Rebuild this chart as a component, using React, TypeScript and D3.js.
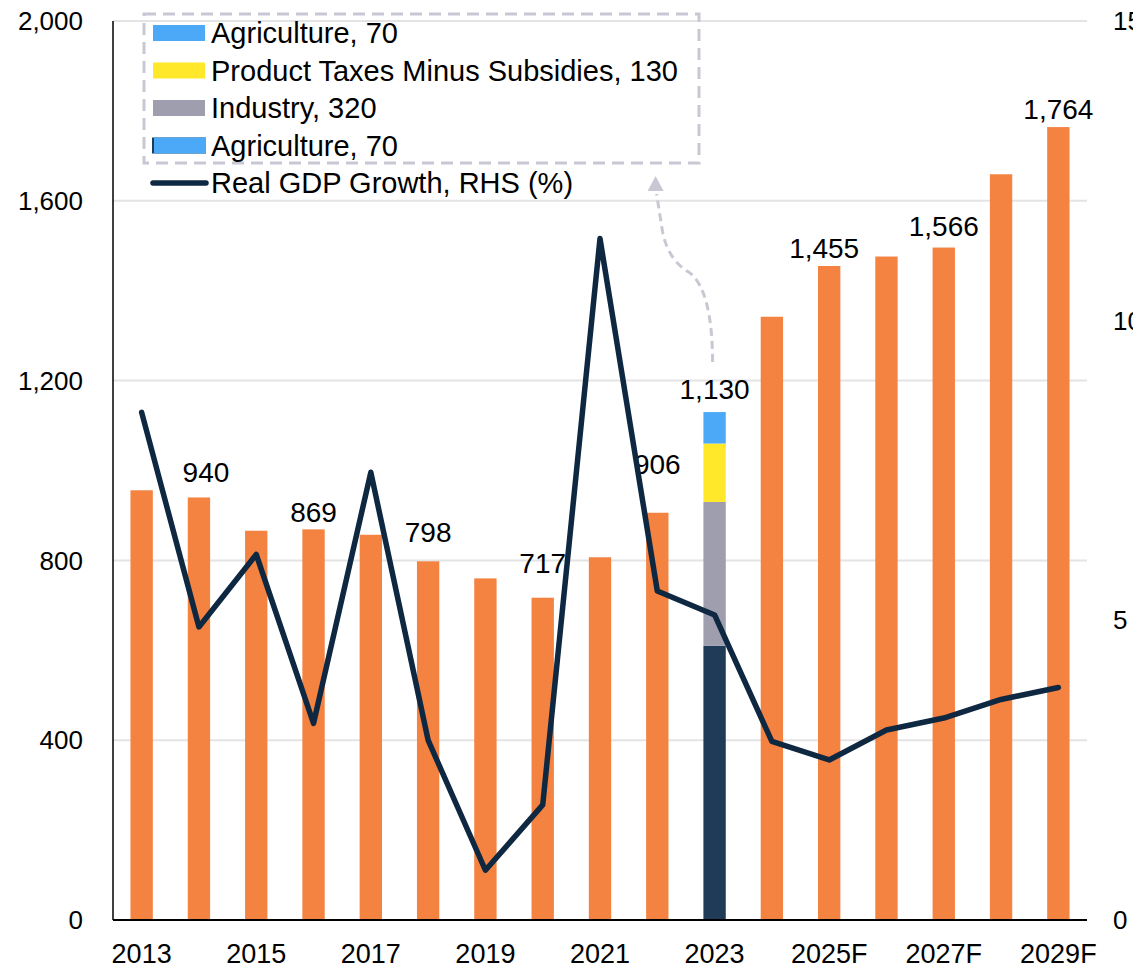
import { useEffect, useRef } from 'react';
import * as d3 from 'd3';

const categories = [
  '2013', '2014', '2015', '2016', '2017', '2018', '2019', '2020', '2021', '2022',
  '2023', '2024F', '2025F', '2026F', '2027F', '2028F', '2029F',
];

// nominal GDP bars (LHS)
const gdpValues = [956, 940, 866, 869, 857, 798, 760, 717, 807, 906, 1130, 1342, 1455, 1476, 1496, 1659, 1764];

// labels shown above some bars
const barLabels = [null, 940, null, 869, null, 798, null, 717, null, 906, 1130, null, 1455, null, 1566, null, 1764];

// 2023 split, bottom to top
const stackYear = '2023';
const stackParts = ['Services', 'Industry', 'Product Taxes Minus Subsidies', 'Agriculture'];
const stackValues = [610, 320, 130, 70];

// real GDP growth, RHS (%)
const growthValues = [8.47, 4.89, 6.1, 3.28, 7.47, 3.0, 0.83, 1.92, 11.37, 5.49, 5.09, 2.98, 2.67, 3.17, 3.37, 3.68, 3.88];

const leftTicks = [0, 400, 800, 1200, 1600, 2000];
const rightTicks = [0, 5, 10, 15];

const legendItems = [
  { label: 'Agriculture, 70', key: 'Agriculture' },
  { label: 'Product Taxes Minus Subsidies, 130', key: 'Product Taxes Minus Subsidies' },
  { label: 'Industry, 320', key: 'Industry' },
  { label: 'Agriculture, 70', key: 'Agriculture', edge: true },
];

const ORANGE = '#F48240';
const LINE = '#0F2842';
const FONT = '"Liberation Sans", Arial, sans-serif';
const partColor = {
  Services: '#1F3B58',
  Industry: '#9E9EAF',
  'Product Taxes Minus Subsidies': '#FFE82A',
  Agriculture: '#4BA9F7',
};

export default function App() {
  const svgRef = useRef(null);

  useEffect(() => {
    document.body.style.margin = '0';
    const svg = d3.select(svgRef.current);
    svg.selectAll('*').remove();

    const width = 1133;
    const height = 969;
    const margin = { top: 21, right: 46, bottom: 49, left: 113 };

    const x = d3.scaleBand()
      .domain(categories)
      .range([margin.left, width - margin.right])
      .padding(0);
    const barW = x.bandwidth() * 0.39;
    const cx = (c) => x(c) + x.bandwidth() / 2;

    const y = d3.scaleLinear().domain([0, 2000]).range([height - margin.bottom, margin.top]);
    const yR = d3.scaleLinear().domain([0, 15]).range([height - margin.bottom, margin.top]);

    const g = svg.append('g').attr('font-family', FONT);

    // gridlines
    g.selectAll('.grid')
      .data(leftTicks.filter(t => t > 0))
      .join('line')
      .attr('x1', margin.left)
      .attr('x2', width - margin.right)
      .attr('y1', d => y(d))
      .attr('y2', d => y(d))
      .attr('stroke', '#E4E4E4')
      .attr('stroke-width', 2);

    // orange bars
    const data = categories.map((c, i) => ({ c, v: gdpValues[i] }));
    g.selectAll('.bar')
      .data(data.filter(d => d.c !== stackYear))
      .join('rect')
      .attr('x', d => cx(d.c) - barW / 2)
      .attr('width', barW)
      .attr('y', d => y(d.v))
      .attr('height', d => y(0) - y(d.v))
      .attr('fill', ORANGE);

    // stacked 2023 bar
    let acc = 0;
    const segs = stackValues.map((v, i) => {
      const s = { key: stackParts[i], y0: acc, y1: acc + v };
      acc += v;
      return s;
    });
    g.selectAll('.seg')
      .data(segs)
      .join('rect')
      .attr('x', cx(stackYear) - barW / 2)
      .attr('width', barW)
      .attr('y', d => y(d.y1))
      .attr('height', d => y(d.y0) - y(d.y1))
      .attr('fill', d => partColor[d.key]);

    // value labels (gap above bar top, per label)
    const labelGap = { '2014': 15, '2016': 7, '2018': 19, '2020': 25, '2022': 39, '2023': 13, '2025F': 8, '2027F': 12, '2029F': 8 };
    const labelShift = { '2014': 7, '2025F': -5 };
    const fmt = d3.format(',');
    g.selectAll('.vlabel')
      .data(categories.map((c, i) => ({ c, v: gdpValues[i], l: barLabels[i] })).filter(d => d.l != null))
      .join('text')
      .attr('x', d => cx(d.c) + (labelShift[d.c] ?? 0))
      .attr('y', d => y(d.v) - (labelGap[d.c] ?? 10))
      .attr('text-anchor', 'middle')
      .attr('font-size', 28)
      .attr('fill', '#000')
      .text(d => fmt(d.l));

    // growth line
    const line = d3.line()
      .x((d, i) => cx(categories[i]))
      .y(d => yR(d));
    g.append('path')
      .datum(growthValues)
      .attr('d', line)
      .attr('fill', 'none')
      .attr('stroke', LINE)
      .attr('stroke-width', 5.5)
      .attr('stroke-linejoin', 'round')
      .attr('stroke-linecap', 'round');

    // axes lines
    g.append('line')
      .attr('x1', margin.left).attr('x2', margin.left)
      .attr('y1', y(2000)).attr('y2', y(0))
      .attr('stroke', '#000').attr('stroke-width', 1.5);
    g.append('line')
      .attr('x1', margin.left).attr('x2', width - margin.right)
      .attr('y1', y(0)).attr('y2', y(0))
      .attr('stroke', '#000').attr('stroke-width', 2);

    // left ticks
    g.selectAll('.lt')
      .data(leftTicks)
      .join('text')
      .attr('x', 83)
      .attr('y', d => y(d))
      .attr('dy', '0.35em')
      .attr('text-anchor', 'end')
      .attr('font-size', 26)
      .text(d => fmt(d));

    // right ticks
    g.selectAll('.rt')
      .data(rightTicks)
      .join('text')
      .attr('x', 1113)
      .attr('y', d => yR(d))
      .attr('dy', '0.35em')
      .attr('font-size', 26)
      .text(d => d);

    // x labels, every other year
    g.selectAll('.xt')
      .data(categories.filter((c, i) => i % 2 === 0))
      .join('text')
      .attr('x', d => cx(d))
      .attr('y', 963)
      .attr('text-anchor', 'middle')
      .attr('font-size', 27)
      .text(d => d);

    // legend
    const boxStroke = '#C8C8D4';
    g.append('rect')
      .attr('x', 144).attr('y', 14)
      .attr('width', 555).attr('height', 149)
      .attr('fill', 'none')
      .attr('stroke', boxStroke)
      .attr('stroke-width', 3)
      .attr('stroke-dasharray', '12 7');

    const rowY = (i) => 33 + i * 37.5;
    legendItems.forEach((item, i) => {
      if (item.edge) {
        g.append('rect')
          .attr('x', 152).attr('y', rowY(i) - 8)
          .attr('width', 54).attr('height', 16)
          .attr('fill', partColor.Services);
        g.append('rect')
          .attr('x', 154).attr('y', rowY(i) - 8)
          .attr('width', 52).attr('height', 16)
          .attr('fill', partColor[item.key]);
      } else {
        g.append('rect')
          .attr('x', 153).attr('y', rowY(i) - 8)
          .attr('width', 52).attr('height', 16)
          .attr('fill', partColor[item.key]);
      }
      g.append('text')
        .attr('x', 211).attr('y', rowY(i))
        .attr('dy', '0.35em')
        .attr('font-size', 29)
        .text(item.label);
    });
    g.append('line')
      .attr('x1', 153).attr('x2', 206)
      .attr('y1', rowY(4)).attr('y2', rowY(4))
      .attr('stroke', LINE)
      .attr('stroke-width', 5.5)
      .attr('stroke-linecap', 'round');
    g.append('text')
      .attr('x', 211).attr('y', rowY(4))
      .attr('dy', '0.35em')
      .attr('font-size', 29)
      .text('Real GDP Growth, RHS (%)');

    // dashed arrow from 2023 bar label to the legend box
    const ax = cx(stackYear) - 2;
    const ay = y(1130) - 50;
    g.append('path')
      .attr('d', `M${ax},${ay} C${ax},${ay - 40} ${ax - 6},${ay - 78} ${ax - 24},${ay - 90} C${ax - 36},${ay - 97} ${ax - 46},${ay - 110} ${ax - 50},${ay - 130} L${ax - 56},${ay - 168}`)
      .attr('fill', 'none')
      .attr('stroke', boxStroke)
      .attr('stroke-width', 3)
      .attr('stroke-dasharray', '8 5');
    g.append('path')
      .attr('d', `M${ax - 57},${ay - 186} L${ax - 65},${ay - 171} L${ax - 49},${ay - 171} Z`)
      .attr('fill', boxStroke);
  }, []);

  return <svg ref={svgRef} width={1133} height={969} style={{ display: 'block' }} />;
}
